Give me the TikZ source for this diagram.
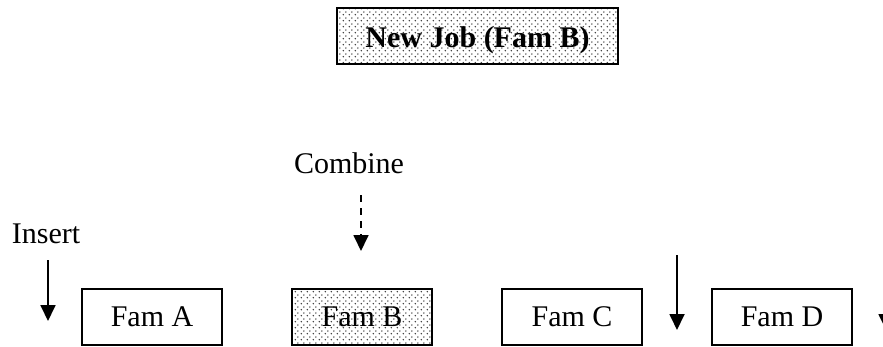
\documentclass[tikz,border=0pt]{standalone}
\usepackage{fontspec}
\setmainfont{Liberation Serif}
\usetikzlibrary{patterns.meta,arrows.meta}
\tikzdeclarepattern{
  name=mydots,
  type=uncolored,
  bounding box={(0pt,0pt) and (6pt,6pt)},
  tile size={(6pt,6pt)},
  code={
    \fill (1.5pt,1.5pt) circle (0.9pt);
    \fill (4.5pt,4.5pt) circle (0.9pt);
  }
}
\tikzset{
  fambox/.style={draw, line width=1.6pt, minimum width=140pt, minimum height=56pt,
    inner sep=0pt, font=\fontsize{30}{36}\selectfont},
  dotfill/.style={pattern={mydots}, pattern color=black!80},
  lbl/.style={inner sep=0pt, anchor=base, font=\fontsize{30}{36}\selectfont},
  arr/.style={line width=1.8pt, -{Triangle[width=15pt,length=16pt]}},
}
\begin{document}
\begin{tikzpicture}[x=1pt,y=1pt]
\useasboundingbox (0,0) rectangle (883,346);
\clip (0,0) rectangle (883,346);
% title
\node[fambox, dotfill, line width=2.6pt, minimum width=281pt, text height=28pt, text depth=4pt,
  font=\fontsize{30}{36}\selectfont\bfseries] (title) at (477.5,310) {New Job (Fam B)};
% family boxes
\node[fambox] (famA) at (152,29) {Fam A};
\node[fambox, dotfill, line width=2pt] (famB) at (362,29) {Fam B};
\node[fambox] (famC) at (572,29) {Fam C};
\node[fambox] (famD) at (782,29) {Fam D};
% labels
\node[lbl] (insert) at (46,103) {Insert};
\node[lbl] (combine) at (349,173) {Combine};
% arrow coordinates
\coordinate (i1) at (48,86);
\coordinate (i2) at (48,25);
\coordinate (c1) at (361,151);
\coordinate (c2) at (361,95);
\coordinate (cd1) at (677,91);
\coordinate (cd2) at (677,16);
\coordinate (r1) at (886,91);
\coordinate (r2) at (886,16);
\draw[arr] (i1) -- (i2);
\draw[arr, dash pattern=on 7pt off 6pt] (c1) -- (c2);
\draw[arr] (cd1) -- (cd2);
\draw[arr] (r1) -- (r2);
\end{tikzpicture}
\end{document}
